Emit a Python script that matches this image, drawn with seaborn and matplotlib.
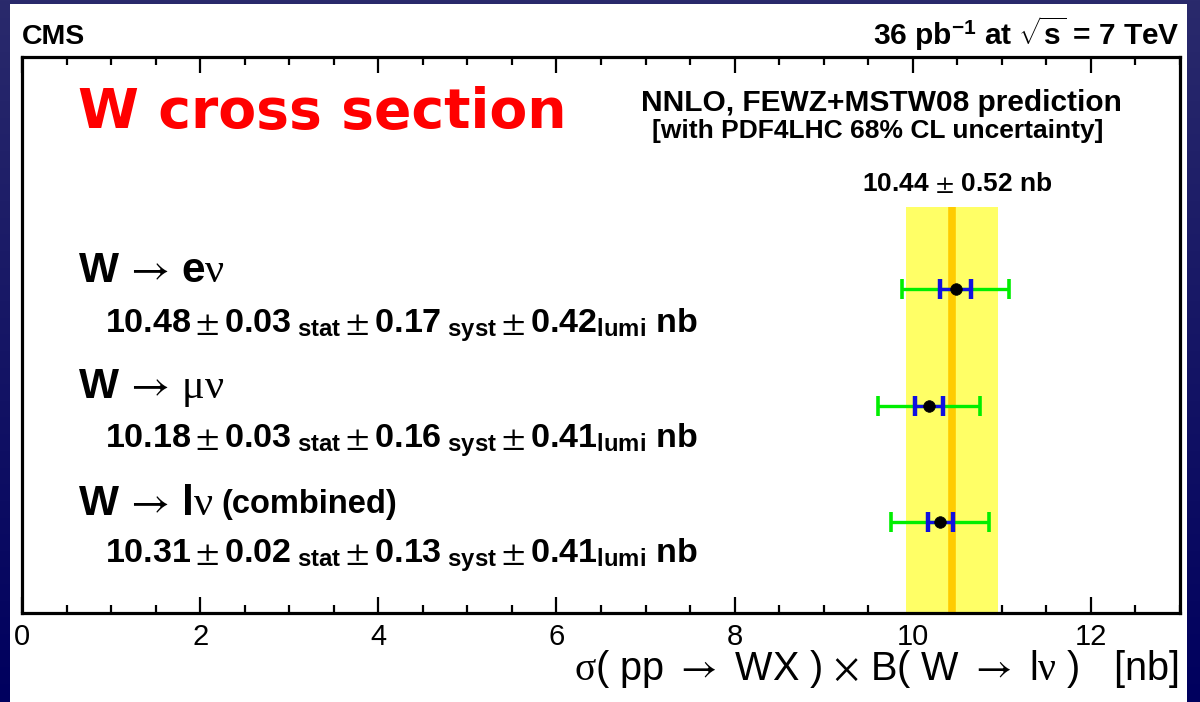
import numpy as np
import pandas as pd
import matplotlib
matplotlib.use("Agg")
import matplotlib.pyplot as plt
from matplotlib.patches import Rectangle
from matplotlib.colors import LinearSegmentedColormap
import seaborn as sns

# ---------------- data ----------------
channels = ["e", "μ", "l"]
label_math = [r"e$\nu$", r"$\mu\nu$", r"l$\nu$"]
label_extra = ["", "", "(combined)"]
central = [10.48, 10.18, 10.31]
stat = [0.03, 0.03, 0.02]
syst = [0.17, 0.16, 0.13]
lumi = [0.42, 0.41, 0.41]
inner_err = [0.17, 0.16, 0.14]   # stat+syst (blue)
outer_err = [0.60, 0.57, 0.55]   # total (green)
row_y = [3, 2, 1]
theory = 10.44
theory_err = 0.52
xticks = [0, 2, 4, 6, 8, 10, 12]

# ---------------- style ----------------
sns.set_theme(style="white")
plt.rcParams["font.family"] = ["Liberation Sans", "DejaVu Sans"]
plt.rcParams["text.color"] = "black"
plt.rcParams["xtick.color"] = "black"
plt.rcParams["axes.labelcolor"] = "black"
plt.rcParams["mathtext.fontset"] = "custom"
plt.rcParams["mathtext.rm"] = "STIXGeneral"
plt.rcParams["mathtext.it"] = "Liberation Serif"
plt.rcParams["mathtext.bf"] = "Liberation Sans:bold"
plt.rcParams["mathtext.sf"] = "Liberation Sans"

fig = plt.figure(figsize=(12, 7.02), dpi=100)

# background: navy gradient frame with white page
bg = fig.add_axes([0, 0, 1, 1], zorder=-10)
grad = np.linspace(0, 1, 256).reshape(-1, 1)
cmap = LinearSegmentedColormap.from_list("navy", ["#2a2a6c", "#00005e"])
bg.imshow(grad, aspect="auto", cmap=cmap, extent=[0, 1, 0, 1], origin="upper")
bg.add_patch(Rectangle((10 / 1200, 0), (1187 - 10) / 1200, 698 / 702,
                       facecolor="white", edgecolor="none"))
bg.set_xlim(0, 1)
bg.set_ylim(0, 1)
bg.axis("off")

ax = fig.add_axes([22 / 1200, 1 - 613 / 702, (1180 - 22) / 1200, (613 - 57) / 702])
ax.set_facecolor("none")
YMIN, YMAX = 0.22, 4.99
ax.set_xlim(0, 13)
ax.set_ylim(YMIN, YMAX)

# theory band
band_top = 3.70
ax.fill_betweenx([YMIN, band_top], theory - theory_err, theory + theory_err,
                 color="#ffff66", lw=0, zorder=1)
ax.plot([theory, theory], [YMIN, band_top], color="#ffcc00", lw=5.5,
        solid_capstyle="butt", zorder=2)

# error bars
ax.errorbar(central, row_y, xerr=outer_err, fmt="none", ecolor="#00ee00",
            elinewidth=2.4, capsize=7, capthick=2.6, zorder=3)
ax.errorbar(central, row_y, xerr=inner_err, fmt="none", ecolor="#1010e0",
            elinewidth=2.4, capsize=7, capthick=3.2, zorder=4)
df = pd.DataFrame({"x": central, "y": row_y, "ch": channels})
sns.scatterplot(data=df, x="x", y="y", ax=ax, color="black", s=70,
                marker="o", edgecolor="black", linewidth=0.5, zorder=5, legend=False)

# axes styling
for sp in ax.spines.values():
    sp.set_linewidth(2.3)
    sp.set_color("black")
ax.set_xticks(xticks)
ax.set_xticklabels([str(t) for t in xticks])
ax.set_xticks(np.arange(0, 13.01, 0.5), minor=True)
ax.set_yticks([])
ax.tick_params(axis="x", which="major", direction="in", length=11.5, width=1.6,
               top=True, bottom=True, labelsize=21, pad=7, colors="black")
ax.tick_params(axis="x", which="minor", direction="in", length=6, width=1.6,
               top=True, bottom=True, colors="black")
ax.set_xlabel("")
ax.set_ylabel("")

# texts inside the axes
ax.text(0.63, 4.379, "W cross section", color="#ff0000", fontsize=39.8,
        fontweight="bold", family="DejaVu Sans", ha="left", va="baseline", zorder=6)
ax.text(9.65, 4.53, "NNLO, FEWZ+MSTW08 prediction", fontsize=21.5,
        fontweight="bold", ha="center", va="baseline", zorder=6)
ax.text(9.61, 4.354, "[with PDF4LHC 68% CL uncertainty]", fontsize=19,
        fontweight="bold", ha="center", va="center", zorder=6)
ax.text(10.5, 3.908, rf"{theory:.2f} $\pm$ $\mathbf{{{theory_err:.2f}}}$ nb",
        fontsize=19, fontweight="bold", ha="center", va="center", zorder=6)

label_base = [3.059, 2.064, 1.06]
value_base = [2.63, 1.644, 0.657]
for i in range(3):
    t = ax.text(0.63, label_base[i], r"W$\,\rightarrow\,$" + label_math[i],
                fontsize=30.5, fontweight="bold", ha="left", va="baseline", zorder=6)
    if label_extra[i]:
        ax.annotate(label_extra[i], xy=(1, 0), xycoords=t, fontsize=23.5,
                    fontweight="bold", ha="left", va="bottom",
                    xytext=(6, 3), textcoords="offset points", zorder=6)
    s = (rf"$\mathbf{{{central[i]:.2f}}}\pm\mathbf{{{stat[i]:.2f}}}_{{\ \mathbf{{stat}}}}"
         rf"\pm\mathbf{{{syst[i]:.2f}}}_{{\ \mathbf{{syst}}}}"
         rf"\pm\mathbf{{{lumi[i]:.2f}}}_{{\mathbf{{lumi}}}}\ \mathbf{{nb}}$")
    ax.text(0.933, value_base[i], s, fontsize=24.6, ha="left", va="baseline", zorder=6)

# texts outside the axes
fig.text(22 / 1200, 1 - 44 / 702, "CMS", fontsize=20.5, fontweight="bold",
         ha="left", va="baseline")
fig.text(1180 / 1200, 1 - 45 / 702, r"36 pb$^{\mathbf{-1}}$ at $\sqrt{\mathbf{s}}$ = 7 TeV",
         fontsize=21.5, fontweight="bold", ha="right", va="baseline")
fig.text(1178 / 1200, 1 - 680 / 702,
         r"$\sigma$( pp $\rightarrow$ WX ) $\times$ B( W $\rightarrow$ l$\nu$ )   [nb]",
         fontsize=28.5, ha="right", va="baseline")

fig.savefig("out.png", dpi=100, facecolor=fig.get_facecolor())
